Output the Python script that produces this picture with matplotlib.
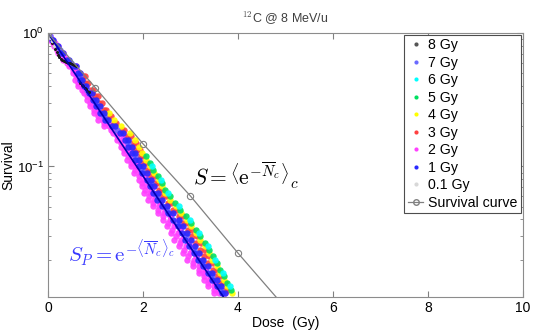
import numpy as np
import matplotlib
matplotlib.use("Agg")
import matplotlib.pyplot as plt

plt.rcParams["mathtext.fontset"] = "cm"
plt.rcParams["font.family"] = ["Liberation Sans", "DejaVu Sans"]

# survival levels (one set on whole 0.05 decades, one set in between)
surv_a = [1.0, 0.891, 0.794, 0.708, 0.631, 0.562, 0.501, 0.447, 0.398, 0.355,
          0.316, 0.282, 0.251, 0.224, 0.200, 0.178, 0.158, 0.141, 0.126, 0.112,
          0.100, 0.0891, 0.0794, 0.0708, 0.0631, 0.0562, 0.0501, 0.0447, 0.0398, 0.0355,
          0.0316, 0.0282, 0.0251, 0.0224, 0.0200, 0.0178, 0.0158, 0.0141, 0.0126, 0.0112]
surv_b = [0.944, 0.841, 0.750, 0.668, 0.596, 0.531, 0.473, 0.422, 0.376, 0.335,
          0.299, 0.266, 0.237, 0.211, 0.188, 0.168, 0.150, 0.133, 0.119, 0.106,
          0.0944, 0.0841, 0.0750, 0.0668, 0.0596, 0.0531, 0.0473, 0.0422, 0.0376, 0.0335,
          0.0299, 0.0266, 0.0237, 0.0211, 0.0188, 0.0168, 0.0150, 0.0133, 0.0119]

# 1 Gy (blue) doses on surv_a rows
dose_1gy = [[0.00, 0.01], [0.09, 0.11], [0.18, 0.21], [0.28, 0.32], [0.40, 0.44],
            [0.55, 0.60], [0.63, 0.68], [0.67, 0.72], [0.75, 0.80], [0.87, 0.93],
            [0.94, 1.01], [1.02, 1.09], [1.10, 1.17], [1.20, 1.27], [1.34, 1.41],
            [1.52, 1.59], [1.62, 1.69], [1.69, 1.77], [1.76, 1.84], [1.83, 1.92],
            [1.91, 2.00], [1.99, 2.08], [2.09, 2.18], [2.15, 2.24], [2.22, 2.31],
            [2.30, 2.40], [2.41, 2.51], [2.52, 2.63], [2.64, 2.75], [2.73, 2.84],
            [2.82, 2.93], [2.89, 3.01], [2.98, 3.10], [3.07, 3.19], [3.16, 3.27],
            [3.26, 3.37], [3.36, 3.46], [3.46, 3.55], [3.55, 3.64], [3.66, 3.73]]

# 2 Gy (magenta) doses on surv_a rows and on surv_b rows
dose_2gy_a = [[0.00], [0.05, 0.07, 0.11], [0.13, 0.16, 0.21], [0.21, 0.26, 0.31],
              [0.31, 0.37, 0.43], [0.45, 0.52, 0.59], [0.53, 0.60, 0.67], [0.57, 0.63, 0.72],
              [0.64, 0.71, 0.80], [0.75, 0.82, 0.92], [0.82, 0.90, 1.00], [0.89, 0.97, 1.08],
              [0.96, 1.05, 1.16], [1.06, 1.15, 1.26], [1.19, 1.29, 1.40], [1.36, 1.46, 1.58],
              [1.46, 1.56, 1.68], [1.53, 1.64, 1.76], [1.60, 1.71, 1.83], [1.66, 1.77, 1.90],
              [1.74, 1.85, 1.98], [1.82, 1.93, 2.07], [1.92, 2.03, 2.17], [1.97, 2.08, 2.23],
              [2.03, 2.15, 2.30], [2.11, 2.23, 2.39], [2.21, 2.34, 2.50], [2.31, 2.45, 2.61],
              [2.43, 2.57, 2.73], [2.51, 2.65, 2.82], [2.59, 2.74, 2.91], [2.66, 2.81, 2.99],
              [2.75, 2.90, 3.08], [2.84, 2.99, 3.17], [2.93, 3.08, 3.25], [3.05, 3.19, 3.35],
              [3.17, 3.29, 3.45], [3.28, 3.39, 3.54], [3.38, 3.49, 3.62], [3.50, 3.60, 3.72]]
dose_2gy_b = [[0.02, 0.04], [0.10, 0.14], [0.19, 0.23], [0.28, 0.34], [0.41, 0.47],
              [0.52, 0.59], [0.58, 0.65], [0.63, 0.71], [0.72, 0.81], [0.82, 0.91],
              [0.89, 0.98], [0.96, 1.06], [1.05, 1.15], [1.17, 1.27], [1.32, 1.43],
              [1.46, 1.57], [1.54, 1.66], [1.61, 1.73], [1.68, 1.80], [1.75, 1.87],
              [1.83, 1.95], [1.92, 2.04], [1.99, 2.12], [2.05, 2.18], [2.12, 2.26],
              [2.22, 2.36], [2.32, 2.47], [2.43, 2.58], [2.53, 2.68], [2.61, 2.77],
              [2.69, 2.86], [2.77, 2.94], [2.86, 3.03], [2.95, 3.12], [3.05, 3.21],
              [3.17, 3.31], [3.28, 3.41], [3.38, 3.51], [3.49, 3.60]]

# 3 Gy (red) doses on surv_b rows 6..38
dose_3gy = [[0.73, 0.77], [0.79, 0.84], [0.90, 0.95], [1.00, 1.05], [1.08, 1.14],
            [1.17, 1.23], [1.26, 1.32], [1.38, 1.44], [1.55, 1.61], [1.69, 1.75],
            [1.78, 1.85], [1.86, 1.93], [1.93, 2.00], [2.00, 2.08], [2.09, 2.16],
            [2.18, 2.25], [2.26, 2.34], [2.33, 2.41], [2.41, 2.49], [2.52, 2.60],
            [2.63, 2.72], [2.75, 2.84], [2.85, 2.94], [2.95, 3.04], [3.03, 3.13],
            [3.12, 3.22], [3.21, 3.31], [3.29, 3.39], [3.38, 3.47], [3.47, 3.56],
            [3.56, 3.64], [3.64, 3.72], [3.73, 3.80]]

# 4 Gy (yellow) doses on surv_a rows 12..39
dose_4gy = [1.29, 1.39, 1.54, 1.73, 1.83, 1.91, 1.98, 2.06, 2.14, 2.23, 2.33, 2.40, 2.47, 2.57,
            2.69, 2.81, 2.93, 3.02, 3.12, 3.21, 3.30, 3.39, 3.46, 3.55, 3.63, 3.71, 3.78, 3.87]

# 5 Gy (green) doses on surv_b rows 18..38
dose_5gy = [2.06, 2.14, 2.22, 2.31, 2.40, 2.47, 2.56, 2.67, 2.79, 2.91, 3.02,
            3.12, 3.21, 3.30, 3.39, 3.47, 3.55, 3.63, 3.71, 3.78, 3.86]

# 6 Gy (cyan) doses on surv_a rows 20, 22, ..., 38
dose_6gy = [2.19, 2.38, 2.53, 2.75, 2.99, 3.18, 3.36, 3.52, 3.69, 3.83]

# 7 Gy doses on surv_b rows 0, 2, ..., 38
dose_7gy = [0.05, 0.25, 0.49, 0.67, 0.83, 1.01, 1.18, 1.46, 1.69, 1.83,
            1.99, 2.16, 2.30, 2.51, 2.73, 2.90, 3.08, 3.25, 3.45, 3.64]

# 8 Gy (dark trace near the top)
dose_8gy = [0.00, 0.03, 0.06, 0.09, 0.12, 0.15, 0.18, 0.21, 0.24, 0.27, 0.30, 0.34, 0.38,
            0.42, 0.46, 0.50, 0.54, 0.58, 0.68, 0.71, 0.74, 0.77, 0.80, 0.83, 0.86]
surv_8gy = [1.00, 0.95, 0.90, 0.85, 0.80, 0.76, 0.72, 0.69, 0.66, 0.64, 0.63, 0.62, 0.61,
            0.60, 0.595, 0.59, 0.58, 0.57, 0.42, 0.41, 0.40, 0.39, 0.38, 0.37, 0.36]

# 0.1 Gy (light grey)
dose_01gy = [0.02, 0.05, 0.08, 0.12]
surv_01gy = [0.97, 0.92, 0.87, 0.80]

# survival curve and S_P line
curve_dose = [0, 1, 2, 3, 4, 5]
curve_surv = [1.0, 0.389, 0.148, 0.060, 0.0224, 0.0087]
sp_dose = [0, 4]
sp_surv = [1.0, 0.0072]

labels = ["8 Gy", "7 Gy", "6 Gy", "5 Gy", "4 Gy", "3 Gy", "2 Gy", "1 Gy", "0.1 Gy"]
colors = ["#555555", "#6a6aff", "#00ffff", "#00e060", "#ffff00", "#ff4040",
          "#ff40ff", "#2a2aff", "#d8d8d8"]


def rows(dose_rows, surv, start=0, step=1):
    xs, ys = [], []
    for k, row in enumerate(dose_rows):
        row = row if isinstance(row, list) else [row]
        for d in row:
            xs.append(d)
            ys.append(surv[start + k * step])
    return xs, ys


fig = plt.figure(figsize=(5.33, 3.31), dpi=100)
ax = fig.add_axes([0.090, 0.103, 0.891, 0.797])

kw = dict(ls="none", marker="o", ms=4.6, mew=0, alpha=0.9)

x, y = rows(dose_2gy_a, surv_a)
ax.plot(x, y, color=colors[6], **kw)
x, y = rows(dose_2gy_b, surv_b)
ax.plot(x, y, color=colors[6], **kw)
x, y = rows(dose_3gy, surv_b, start=6)
ax.plot(x, y, color=colors[5], **kw)
x, y = rows(dose_4gy, surv_a, start=12)
ax.plot(x, y, color=colors[4], **kw)
x, y = rows(dose_5gy, surv_b, start=18)
ax.plot(x, y, color=colors[3], **kw)
x, y = rows(dose_6gy, surv_a, start=20, step=2)
ax.plot(x, y, color=colors[2], **kw)
x, y = rows(dose_7gy, surv_b, step=2)
ax.plot(x, y, color=colors[1], **kw)
x, y = rows(dose_1gy, surv_a)
ax.plot(x, y, color=colors[7], **kw)
ax.plot(dose_8gy, surv_8gy, color="#1a1a1a", ls="none", marker="o", ms=2.2, mew=0)
ax.plot(dose_01gy, surv_01gy, color=colors[8], ls="none", marker="o", ms=2.5, mew=0)

ax.plot(sp_dose, sp_surv, color="#0000b0", lw=1.2)
ax.plot(curve_dose, curve_surv, color="0.5", lw=0.9, marker="o", ms=4.5,
        mfc="none", mec="0.5", mew=0.8)

# legend proxies
handles = []
for lab, col in zip(labels, colors):
    h, = ax.plot([], [], ls="none", marker="o", ms=3, mew=0, color=col, label=lab)
    handles.append(h)
h, = ax.plot([], [], color="0.5", lw=0.9, marker="o", ms=4, mfc="none", mec="0.5",
             label="Survival curve")
handles.append(h)
leg = ax.legend(handles=handles, loc="upper right", fontsize=10.2, frameon=True,
                fancybox=False, framealpha=1, edgecolor="0.3", borderaxespad=0.12,
                handlelength=1.1, handletextpad=0.35, labelspacing=0.245, borderpad=0.25)
leg.get_frame().set_linewidth(0.8)

ax.set_yscale("log")
ax.set_xlim(0, 10)
ax.set_ylim(0.0105, 1)
ax.set_xticks([0, 2, 4, 6, 8, 10])
ax.tick_params(which="both", direction="in", top=True, right=True, color="0.5",
               labelsize=10, pad=3)
ax.tick_params(axis="y", labelsize=9.5)
ax.tick_params(which="major", length=4)
ax.tick_params(which="minor", length=2)
for s in ax.spines.values():
    s.set_color("0.55")

ax.text(3.05, 0.085, r"$S = \left\langle \mathrm{e}^{-\overline{N}_c} \right\rangle_c$",
        fontsize=15.5, va="center")
ax.text(0.42, 0.0224, r"$S_P = \mathrm{e}^{-\langle \overline{N}_c \rangle_c}$",
        fontsize=15, va="center", color="#3a3aff")

ax.set_title(r"$^{12}$C @ 8 MeV/u", fontsize=9, color="0.25", pad=8)
ax.set_xlabel("Dose  (Gy)", fontsize=10, labelpad=1)
ax.set_ylabel("Survival", fontsize=10, labelpad=1)

fig.savefig("out.png", dpi=100)
